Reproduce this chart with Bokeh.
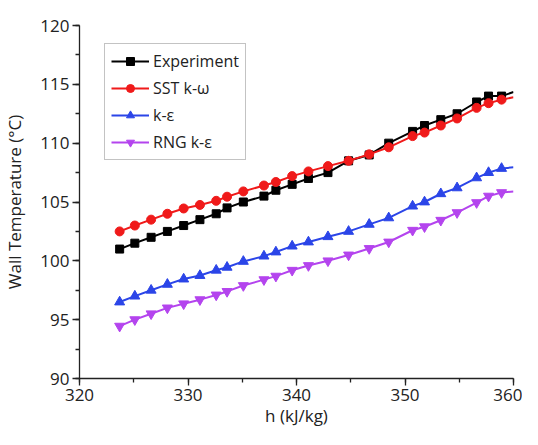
from bokeh.plotting import figure
from bokeh.models import Legend, LegendItem, SingleIntervalTicker, Range1d
from bokeh.embed import file_html
from bokeh.resources import INLINE

h = [323.7, 325.1, 326.6, 328.1, 329.6, 331.1, 332.6, 333.6, 335.1, 337.0,
     338.1, 339.6, 341.1, 342.9, 344.8, 346.7, 348.5, 350.7, 351.8, 353.3,
     354.8, 356.6, 357.7, 358.9, 360.0]
experiment = [101.0, 101.5, 102.0, 102.5, 103.0, 103.5, 104.0, 104.5, 105.0, 105.5,
              106.0, 106.5, 107.0, 107.5, 108.5, 109.0, 110.0, 111.0, 111.5, 112.0,
              112.5, 113.5, 114.0, 114.0, 114.35]
sst_kw = [102.5, 103.0, 103.5, 104.0, 104.45, 104.75, 105.1, 105.45, 105.9, 106.4,
          106.7, 107.2, 107.6, 108.05, 108.5, 109.05, 109.65, 110.6, 110.9, 111.5,
          112.1, 113.0, 113.4, 113.7, 113.9]
k_eps = [96.5, 97.0, 97.5, 98.0, 98.45, 98.75, 99.2, 99.45, 99.95, 100.4,
         100.75, 101.25, 101.6, 102.05, 102.5, 103.1, 103.65, 104.65, 105.0, 105.7,
         106.2, 107.05, 107.5, 107.85, 107.95]
rng_k_eps = [94.45, 95.0, 95.5, 96.0, 96.35, 96.7, 97.1, 97.4, 97.9, 98.4,
             98.7, 99.2, 99.6, 100.0, 100.5, 101.05, 101.6, 102.6, 102.9, 103.45,
             104.1, 104.95, 105.5, 105.8, 105.9]

series_names = ["Experiment", "SST k-\u03c9", "k-\u03b5", "RNG k-\u03b5"]
series_values = [experiment, sst_kw, k_eps, rng_k_eps]
colors = ["#000000", "#F01A1A", "#2B45E8", "#B444EE"]
markers = ["square", "circle", "triangle", "inverted_triangle"]
sizes = [8, 9, 10, 10]

FONT = "Open Sans"

p = figure(width=522, height=429, output_backend="svg", toolbar_location=None,
           x_range=Range1d(320, 360), y_range=Range1d(90, 120),
           min_border_left=77, min_border_right=9, min_border_top=25,
           min_border_bottom=50)
p.outline_line_color = None
p.xgrid.visible = False
p.ygrid.visible = False
p.background_fill_color = "white"

items = []
for name, vals, c, m, s in zip(series_names, series_values, colors, markers, sizes):
    ln = p.line(h, vals, line_color=c, line_width=2)
    sc = p.scatter(h[:-1], vals[:-1], marker=m, size=s, fill_color=c, line_color=c)
    items.append(LegendItem(label=name, renderers=[ln, sc]))

for ax, ticker in ((p.xaxis, SingleIntervalTicker(interval=10, num_minor_ticks=2)),
                   (p.yaxis, SingleIntervalTicker(interval=5, num_minor_ticks=2))):
    ax.ticker = ticker
    ax.axis_line_color = "#222222"
    ax.axis_line_width = 1.3
    ax.major_tick_line_color = "#222222"
    ax.minor_tick_line_color = "#222222"
    ax.major_tick_line_width = 1.3
    ax.minor_tick_line_width = 1.3
    ax.major_tick_in = 0
    ax.major_tick_out = 7
    ax.minor_tick_in = 0
    ax.minor_tick_out = 4
    ax.major_label_text_font = FONT
    ax.major_label_text_font_size = "17px"
    ax.major_label_text_color = "#222222"
    ax.axis_label_text_font = FONT
    ax.axis_label_text_font_size = "17px"
    ax.axis_label_text_font_style = "normal"
    ax.axis_label_text_color = "#222222"

p.xaxis.axis_label = "h (kJ/kg)"
p.yaxis.axis_label = "Wall Temperature (\u00b0C)"
p.xaxis.major_label_standoff = 3
p.yaxis.major_label_standoff = 3
p.xaxis.axis_label_standoff = 0
p.yaxis.axis_label_standoff = 11

legend = Legend(items=items, location=(25, 218))
legend.label_text_font = FONT
legend.label_text_font_size = "16px"
legend.label_text_color = "#222222"
legend.glyph_width = 38
legend.glyph_height = 20
legend.label_height = 20
legend.spacing = 5
legend.padding = 6
legend.margin = 0
legend.label_standoff = 4
legend.border_line_color = "#888888"
legend.border_line_width = 1
legend.background_fill_alpha = 1.0
p.add_layout(legend)

open("out.html", "w").write(file_html(p, INLINE))
